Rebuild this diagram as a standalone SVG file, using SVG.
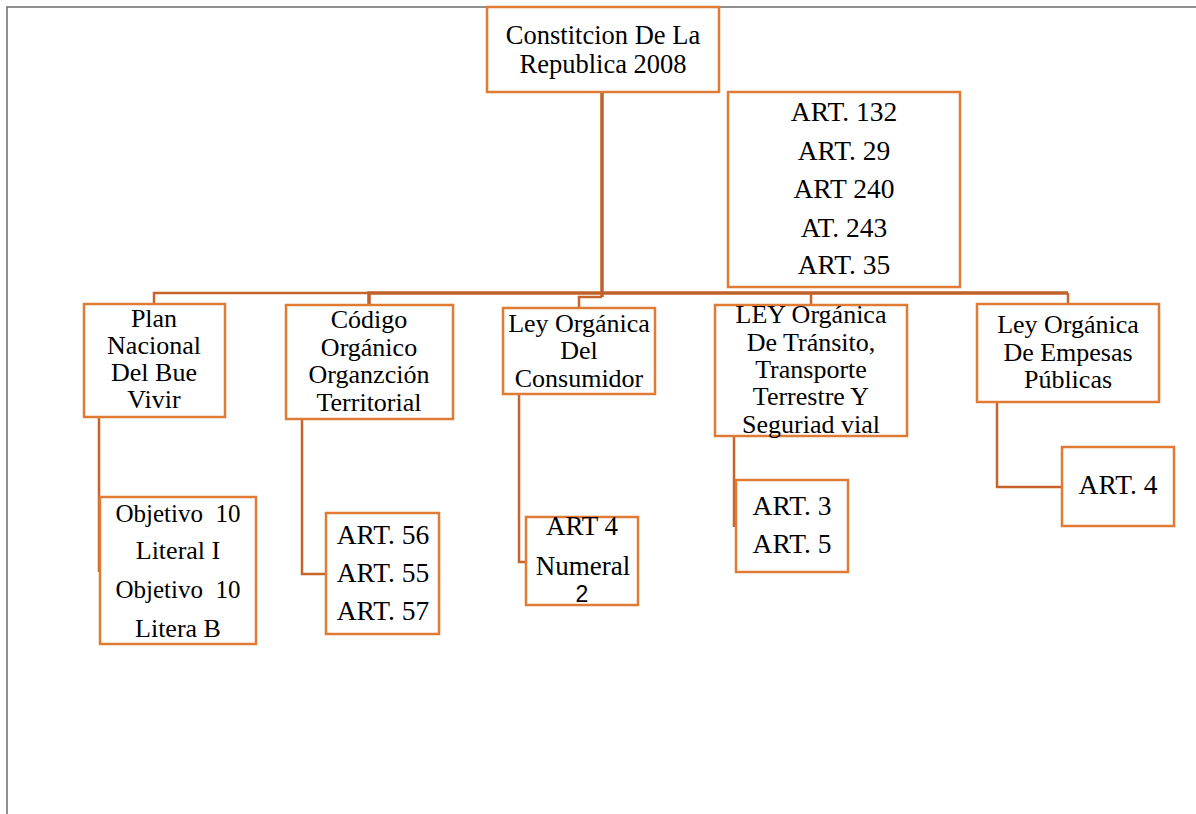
<svg xmlns="http://www.w3.org/2000/svg" width="1196" height="814" viewBox="0 0 1196 814">
<style>
.box{fill:#fff;stroke:#E07B36;stroke-width:2.5}
.t{font-family:'Liberation Serif','Times New Roman',Tinos,Times,'DejaVu Serif',serif;font-size:26px;fill:#000;text-anchor:middle}
.a{font-size:27.5px}
.s{font-family:'Liberation Sans',Arial,sans-serif;font-size:23px;fill:#000;text-anchor:middle}
.c{fill:none;stroke:#C6642B;stroke-width:2.5}
.cb{fill:none;stroke:#C0612A;stroke-width:3.5}
.fr{fill:none;stroke:#6b6b6b;stroke-width:1.5}
</style>
<rect width="1196" height="814" fill="#fff"/>
<path class="fr" d="M7,814 V7 H1196"/>
<g id="connectors">
<path class="cb" d="M602,92 V297"/>
<path class="c" d="M154,304 V293 H369"/>
<path class="cb" d="M369,305 V293 H1068"/>
<path class="c" d="M579,308 V297 H602"/>
<path class="c" d="M811,305 V293"/>
<path class="c" d="M1068,304 V293"/>
<path class="c" d="M99,417 V572"/>
<path class="c" d="M302,419 V574 H326"/>
<path class="c" d="M519,394 V562 H526"/>
<path class="c" d="M734,436 V527"/>
<path class="c" d="M997,402 V487 H1062"/>
</g>
<g id="root">
<rect class="box" x="487" y="7" width="232" height="85"/>
<text class="t" x="603" y="44" style="font-size:26.5px">Constitcion De La</text>
<text class="t" x="603" y="73" style="font-size:26.5px">Republica 2008</text>
</g>
<g id="arts">
<rect class="box" x="728" y="92" width="232" height="195"/>
<text class="t a" x="844" y="121">ART. 132</text>
<text class="t a" x="844" y="160">ART. 29</text>
<text class="t a" x="844" y="198">ART 240</text>
<text class="t a" x="844" y="237">AT. 243</text>
<text class="t a" x="844" y="274">ART. 35</text>
</g>
<g id="plan">
<rect class="box" x="84" y="304" width="141" height="113"/>
<text class="t" x="154" y="327">Plan</text>
<text class="t" x="154" y="354">Nacional</text>
<text class="t" x="154" y="381">Del Bue</text>
<text class="t" x="154" y="408">Vivir</text>
</g>
<g id="codigo">
<rect class="box" x="286" y="305" width="167" height="114"/>
<text class="t" x="369" y="328">Código</text>
<text class="t" x="369" y="356">Orgánico</text>
<text class="t" x="369" y="383">Organzción</text>
<text class="t" x="369" y="411">Territorial</text>
</g>
<g id="consumidor">
<rect class="box" x="503" y="308" width="152" height="86"/>
<text class="t" x="579" y="332">Ley Orgánica</text>
<text class="t" x="579" y="359">Del</text>
<text class="t" x="579" y="387">Consumidor</text>
</g>
<g id="transito">
<rect class="box" x="715" y="305" width="192" height="131"/>
<text class="t" x="811" y="323">LEY Orgánica</text>
<text class="t" x="811" y="351">De Tránsito,</text>
<text class="t" x="811" y="378">Transporte</text>
<text class="t" x="811" y="405">Terrestre Y</text>
<text class="t" x="811" y="433">Seguriad vial</text>
</g>
<g id="empresas">
<rect class="box" x="977" y="304" width="182" height="98"/>
<text class="t" x="1068" y="333">Ley Orgánica</text>
<text class="t" x="1068" y="361">De Empesas</text>
<text class="t" x="1068" y="388">Públicas</text>
</g>
<g id="objetivo">
<rect class="box" x="100" y="497" width="156" height="147"/>
<text class="t" x="178" y="522" style="font-size:25px" xml:space="preserve">Objetivo  10</text>
<text class="t" x="178" y="559">Literal I</text>
<text class="t" x="178" y="598" style="font-size:25px" xml:space="preserve">Objetivo  10</text>
<text class="t" x="178" y="637">Litera B</text>
</g>
<g id="art56">
<rect class="box" x="326" y="513" width="113" height="121"/>
<text class="t a" x="383" y="544">ART. 56</text>
<text class="t a" x="383" y="582">ART. 55</text>
<text class="t a" x="383" y="620">ART. 57</text>
</g>
<g id="art4num">
<rect class="box" x="526" y="517" width="112" height="88"/>
<text class="t" x="582" y="535" style="font-size:27px">ART 4</text>
<text class="t" x="583" y="575" style="font-size:27px">Numeral</text>
<text class="s" x="582" y="602">2</text>
</g>
<g id="art3">
<rect class="box" x="736" y="480" width="112" height="92"/>
<text class="t a" x="792" y="515">ART. 3</text>
<text class="t a" x="792" y="553">ART. 5</text>
</g>
<g id="art4">
<rect class="box" x="1062" y="447" width="112" height="79"/>
<text class="t a" x="1118" y="494">ART. 4</text>
</g>
</svg>
